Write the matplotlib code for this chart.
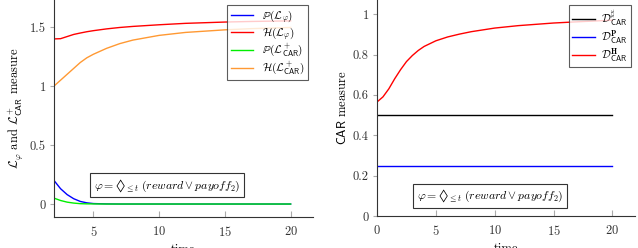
import numpy as np
from matplotlib import pyplot as plt

plt.rcParams['font.family'] = 'serif'
plt.rcParams['font.serif'] = ['cmr10', 'DejaVu Serif']
plt.rcParams['mathtext.fontset'] = 'cm'
plt.rcParams['axes.formatter.use_mathtext'] = True
plt.rcParams['font.size'] = 8

# left panel: L_phi and L+_CAR measures
t_left = [2, 2.5, 3, 3.5, 4, 4.5, 5, 6, 7, 8, 10, 12, 15, 17, 20]
h_phi = [1.400, 1.402, 1.420, 1.438, 1.450, 1.461, 1.470, 1.485, 1.497, 1.506, 1.520, 1.532, 1.543, 1.548, 1.553]
h_car = [1.0, 1.05, 1.10, 1.15, 1.20, 1.24, 1.27, 1.32, 1.36, 1.39, 1.43, 1.455, 1.477, 1.487, 1.497]
p_phi = [0.20, 0.13, 0.08, 0.045, 0.022, 0.010, 0.004, 0.001, 0, 0, 0, 0, 0, 0, 0]
p_car = [0.05, 0.03, 0.016, 0.008, 0.003, 0.0015, 0.001, 0, 0, 0, 0, 0, 0, 0, 0]

# right panel: CAR measures
t_right = [0, 0.5, 1, 1.5, 2, 2.5, 3, 3.5, 4, 5, 6, 7, 8, 10, 12, 15, 17, 20]
d_h = [0.565, 0.59, 0.63, 0.68, 0.725, 0.765, 0.795, 0.82, 0.84, 0.868, 0.887, 0.901, 0.913, 0.931, 0.943, 0.956, 0.962, 0.970]
d_sharp = [0.5] * len(t_right)
d_p = [0.25] * len(t_right)

formula = '$\\varphi = \u25ca_{\\leq t}\\ (\\mathit{reward} \\vee \\mathit{payoff}_2)$'
car = r'\mathsf{CAR}'


def style_axes(ax):
    ax.spines['top'].set_visible(False)
    ax.spines['right'].set_visible(False)
    for s in ('left', 'bottom'):
        ax.spines[s].set_color('#333333')
        ax.spines[s].set_linewidth(0.8)
    ax.tick_params(axis='x', direction='in', length=4, color='#aaaaaa',
                   labelsize=9, pad=6, labelcolor='#333333')
    ax.tick_params(axis='y', direction='out', length=3, color='#aaaaaa',
                   labelsize=9, pad=3, labelcolor='#333333')


def num_fmt(v, pos):
    return '%g' % round(v, 3)


fig = plt.figure(figsize=(6.38, 2.48), dpi=100)

ax1 = fig.add_axes([0.0846, 0.125, 0.406, 0.875])
ax1.plot(t_left, p_phi, color='blue', lw=1.0, label=r'$\mathbb{P}(\mathcal{L}_\varphi)$')
ax1.plot(t_left, h_phi, color='red', lw=1.0, label=r'$\mathcal{H}(\mathcal{L}_\varphi)$')
ax1.plot(t_left, p_car, color='#00ee00', lw=1.0, label=r'$\mathbb{P}(\mathcal{L}^+_{%s})$' % car)
ax1.plot(t_left, h_car, color='#ff9933', lw=1.0, label=r'$\mathcal{H}(\mathcal{L}^+_{%s})$' % car)
ax1.set_xlim(2, 21.7)
ax1.set_ylim(-0.11, 1.73)
ax1.set_xticks([5, 10, 15, 20])
ax1.set_yticks([0, 0.5, 1, 1.5])
ax1.yaxis.set_major_formatter(plt.FuncFormatter(num_fmt))
ax1.set_xlabel('time', labelpad=3, fontsize=9)
ax1.set_ylabel(r'$\mathcal{L}_\varphi$ and $\mathcal{L}^+_{%s}$ measure' % car, labelpad=3, fontsize=9)
style_axes(ax1)
leg = ax1.legend(loc='upper right', bbox_to_anchor=(0.981, 0.977), borderaxespad=0,
                 fancybox=False, edgecolor='#333333', handlelength=2.0,
                 handletextpad=0.8, labelspacing=0.0, borderpad=0.3)
leg.get_frame().set_linewidth(0.8)
ax1.text(10.6, 0.16, formula, ha='center', va='center', fontsize=8.5,
         bbox=dict(boxstyle='square,pad=0.3', fc='white', ec='#333333', lw=0.8))

ax2 = fig.add_axes([0.591, 0.129, 0.404, 0.871])
ax2.plot(t_right, d_sharp, color='black', lw=1.0, label=r'$\mathcal{D}^{\sharp}_{%s}$' % car)
ax2.plot(t_right, d_p, color='blue', lw=1.0, label=r'$\mathcal{D}^{\mathbf{P}}_{%s}$' % car)
ax2.plot(t_right, d_h, color='red', lw=1.0, label=r'$\mathcal{D}^{\mathbf{H}}_{%s}$' % car)
ax2.set_xlim(0, 21.9)
ax2.set_ylim(0, 1.07)
ax2.set_xticks([0, 5, 10, 15, 20])
ax2.set_yticks([0, 0.2, 0.4, 0.6, 0.8, 1])
ax2.yaxis.set_major_formatter(plt.FuncFormatter(num_fmt))
ax2.set_xlabel('time', labelpad=3, fontsize=9)
ax2.set_ylabel(r'$\mathsf{CAR}$ measure', labelpad=3, fontsize=9)
style_axes(ax2)
leg2 = ax2.legend(loc='upper right', bbox_to_anchor=(0.984, 0.977), borderaxespad=0,
                  fancybox=False, edgecolor='#333333', handlelength=2.0,
                  handletextpad=0.6, labelspacing=0.05, borderpad=0.3)
leg2.get_frame().set_linewidth(0.8)
ax2.text(9.6, 0.1, formula, ha='center', va='center', fontsize=8.5,
         bbox=dict(boxstyle='square,pad=0.3', fc='white', ec='#333333', lw=0.8))

fig.savefig('out.png', dpi=100)
